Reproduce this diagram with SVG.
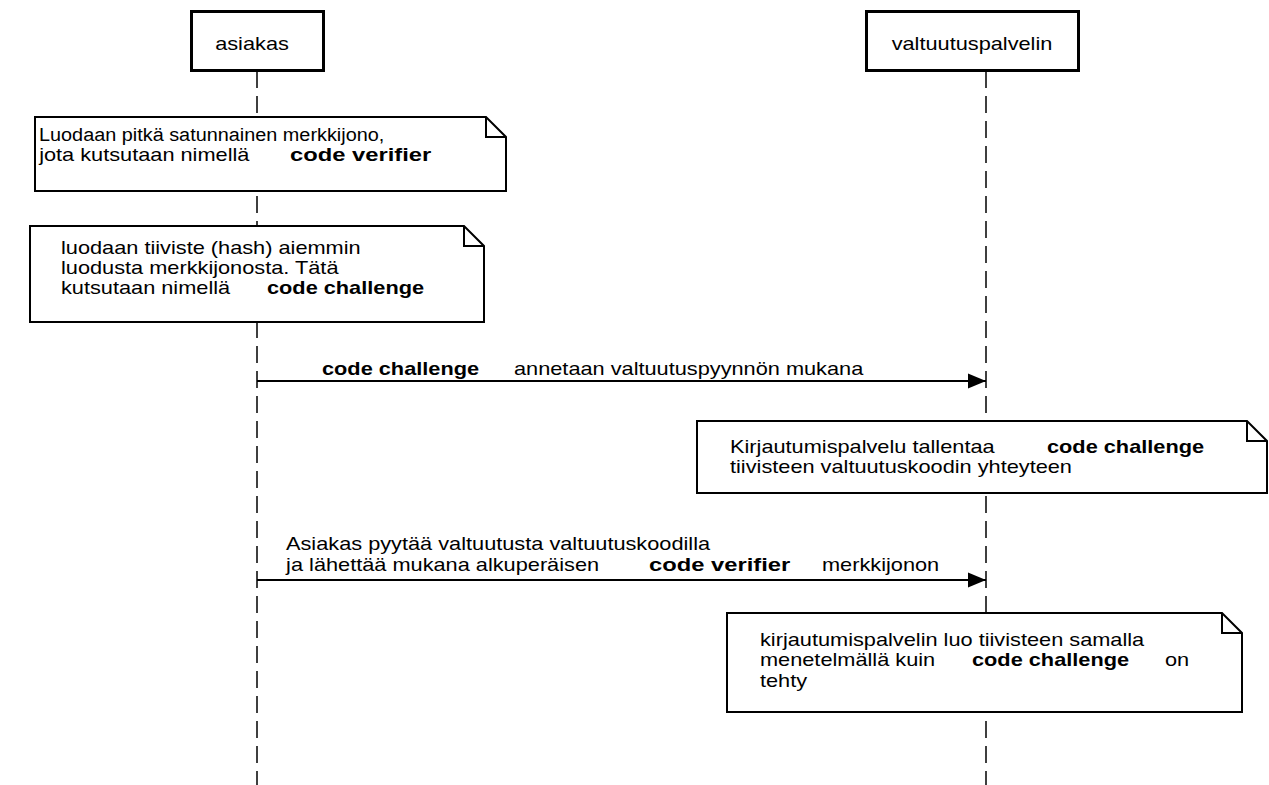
<svg xmlns="http://www.w3.org/2000/svg" width="1269" height="785" viewBox="0 0 1269 785">
  <style>
    text {
      font-family: "Liberation Sans", Arial, sans-serif;
      font-size: 19px;
      fill: #000;
      transform-box: fill-box;
      transform-origin: 0 0;
      transform: scaleX(1.145);
    }
    text.c { transform-origin: 50% 0; }
    text.narrow { transform: scaleX(1.045); }
    text.wide { transform: scaleX(1.25); }
    .b { font-weight: bold; }
    .actor { fill: #fff; stroke: #000; stroke-width: 3; }
    .life { fill: none; stroke: #000; stroke-width: 1.5; stroke-dasharray: 17 8; }
    .note { fill: #fff; stroke: #000; stroke-width: 2; stroke-linejoin: miter; }
    .msg { fill: none; stroke: #000; stroke-width: 2; }
  </style>
  <defs>
    <marker id="arrow" markerWidth="20" markerHeight="18" refX="18" refY="8" orient="auto" markerUnits="userSpaceOnUse">
      <path d="M0,0.5 L18,8 L0,15.5 Z" fill="#000"/>
    </marker>
  </defs>
  <rect width="1269" height="785" fill="#fff"/>

  <!-- lifelines -->
  <g id="lifelines">
    <line class="life" x1="257" y1="71" x2="257" y2="785"/>
    <line class="life" x1="986" y1="71" x2="986" y2="785"/>
  </g>

  <!-- participants -->
  <g id="asiakas">
    <rect class="actor" x="191.5" y="11.5" width="132" height="59"/>
    <text class="c" x="252" y="50" text-anchor="middle">asiakas</text>
  </g>
  <g id="valtuutuspalvelin">
    <rect class="actor" x="866.5" y="11.5" width="212" height="59"/>
    <text class="c" x="972" y="50" text-anchor="middle">valtuutuspalvelin</text>
  </g>

  <!-- notes -->
  <g id="note-verifier">
    <path class="note" d="M35,117 H486 L506,137 V191 H35 Z M486,117 V137 H506"/>
    <text class="narrow" x="39" y="141">Luodaan pitkä satunnainen merkkijono,</text>
    <text x="39" y="161.5">jota kutsutaan nimellä</text>
    <text class="b wide" x="290" y="161.5">code verifier</text>
  </g>
  <g id="note-challenge">
    <path class="note" d="M30,226 H464 L484,246 V322 H30 Z M464,226 V246 H484"/>
    <text x="61" y="254">luodaan tiiviste (hash) aiemmin</text>
    <text x="61" y="274">luodusta merkkijonosta. Tätä</text>
    <text x="61" y="294.5">kutsutaan nimellä</text>
    <text class="b" x="267" y="294.5">code challenge</text>
  </g>
  <g id="note-store">
    <path class="note" d="M697,421 H1247 L1267,441 V493 H697 Z M1247,421 V441 H1267"/>
    <text x="730" y="453">Kirjautumispalvelu tallentaa</text>
    <text class="b" x="1047" y="453">code challenge</text>
    <text x="730" y="473">tiivisteen valtuutuskoodin yhteyteen</text>
  </g>
  <g id="note-compare">
    <path class="note" d="M727,613 H1222 L1242,633 V712 H727 Z M1222,613 V633 H1242"/>
    <text x="760" y="646">kirjautumispalvelin luo tiivisteen samalla</text>
    <text x="760" y="666.5">menetelmällä kuin</text>
    <text class="b" x="972" y="666.5">code challenge</text>
    <text x="1165" y="666.5">on</text>
    <text x="760" y="687">tehty</text>
  </g>

  <!-- messages -->
  <g id="connectors">
    <line class="msg" x1="257" y1="381" x2="986" y2="381" marker-end="url(#arrow)"/>
    <line class="msg" x1="257" y1="580" x2="986" y2="580" marker-end="url(#arrow)"/>
  </g>
  <g id="labels">
    <text class="b" x="322" y="375">code challenge</text>
    <text x="514" y="375">annetaan valtuutuspyynnön mukana</text>
    <text x="286" y="550">Asiakas pyytää valtuutusta valtuutuskoodilla</text>
    <text x="286" y="571">ja lähettää mukana alkuperäisen</text>
    <text class="b wide" x="649" y="571">code verifier</text>
    <text x="822" y="571">merkkijonon</text>
  </g>
</svg>
